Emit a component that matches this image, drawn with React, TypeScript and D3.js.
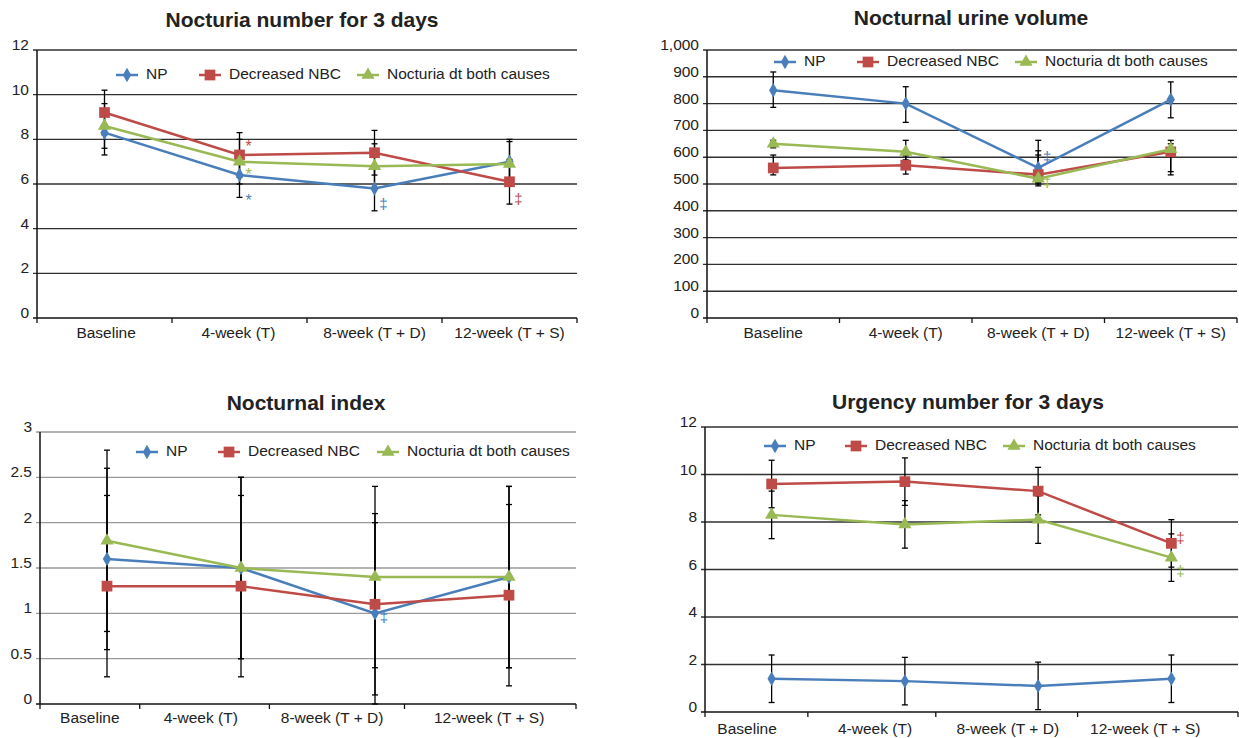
import React, { useEffect, useRef } from 'react';
import * as d3 from 'd3';

// categories and series
const categories = ['Baseline', '4-week (T)', '8-week (T + D)', '12-week (T + S)'];
const seriesNames = ['NP', 'Decreased NBC', 'Nocturia dt both causes'];
const seriesColors = ['#4a7ebb', '#be4b48', '#98b954'];
const seriesSymbols = [d3.symbolDiamond, d3.symbolSquare, d3.symbolTriangle];
const symbolSizes = [60, 115, 75];

// Nocturia number for 3 days
const nocNP = [8.3, 6.4, 5.8, 7.0];
const nocNBC = [9.2, 7.3, 7.4, 6.1];
const nocBoth = [8.6, 7.0, 6.8, 6.9];
const nocTicks = [0, 2, 4, 6, 8, 10, 12];

// Nocturnal urine volume
const volNP = [850, 800, 560, 815];
const volNBC = [560, 570, 535, 620];
const volBoth = [650, 620, 520, 630];
const volNPUp = [68, 63, 64, 66];
const volNPDown = [64, 70, 60, 68];
const volNBCUp = [48, 35, 73, 30];
const volNBCDown = [26, 33, 42, 86];
const volBothUp = [13, 43, 143, 33];
const volBothDown = [15, 30, 15, 84];
const volTicks = [0, 100, 200, 300, 400, 500, 600, 700, 800, 900, 1000];

// Nocturnal index
const idxNP = [1.6, 1.5, 1.0, 1.4];
const idxNBC = [1.3, 1.3, 1.1, 1.2];
const idxBoth = [1.8, 1.5, 1.4, 1.4];
const idxTicks = [0, 0.5, 1, 1.5, 2, 2.5, 3];

// Urgency number for 3 days
const urgNP = [1.4, 1.3, 1.1, 1.4];
const urgNBC = [9.6, 9.7, 9.3, 7.1];
const urgBoth = [8.3, 7.9, 8.1, 6.5];
const urgTicks = [0, 2, 4, 6, 8, 10, 12];

// +/- 1 error bars
const errOne = [1, 1, 1, 1];

// significance marks: series index, category index, y value, symbol
const nocMarks: [number, number, number, string][] = [
  [1, 1, 7.95, '*'], [2, 1, 6.7, '*'], [0, 1, 5.5, '*'], [0, 2, 5.05, '‡'], [1, 3, 5.3, '‡'],
];
const volMarks: [number, number, number, string][] = [[0, 2, 598, '‡'], [2, 2, 505, '‡']];
const idxMarks: [number, number, number, string][] = [[0, 2, 0.95, '‡']];
const urgMarks: [number, number, number, string][] = [[1, 3, 7.3, '‡'], [2, 3, 5.9, '‡']];

const FONT = "'Liberation Sans', Arial, Helvetica, sans-serif";

type Panel = {
  title: string;
  values: number[][];
  up: number[][];
  down: number[][];
  ticks: number[];
  fmt: (v: number) => string;
  marks: [number, number, number, string][];
  x0: number; x1: number; yTop: number; yBottom: number;
  titleX: number; titleY: number; labelY: number;
  legendX: number[]; legendY: number;
  tickFrac: number[];
  labelFrac: number[];
  grid: string;
};

const panels: Panel[] = [
  {
    title: 'Nocturia number for 3 days',
    values: [nocNP, nocNBC, nocBoth], up: [errOne, errOne, errOne], down: [errOne, errOne, errOne],
    ticks: nocTicks, fmt: d3.format('d'), marks: nocMarks,
    x0: 37, x1: 577, yTop: 50, yBottom: 318, titleX: 302, titleY: 21, labelY: 334,
    legendX: [116, 199, 357], legendY: 75,
    tickFrac: [0, 0.25, 0.5, 0.75, 1], labelFrac: [0.128, 0.373, 0.625, 0.875], grid: '#303030',
  },
  {
    title: 'Nocturnal urine volume',
    values: [volNP, volNBC, volBoth], up: [volNPUp, volNBCUp, volBothUp], down: [volNPDown, volNBCDown, volBothDown],
    ticks: volTicks, fmt: d3.format(','), marks: volMarks,
    x0: 707, x1: 1237, yTop: 50, yBottom: 318, titleX: 971, titleY: 19, labelY: 334,
    legendX: [774, 857, 1015], legendY: 62,
    tickFrac: [0, 0.25, 0.5, 0.75, 1], labelFrac: [0.125, 0.375, 0.625, 0.875], grid: '#303030',
  },
  {
    title: 'Nocturnal index',
    values: [idxNP, idxNBC, idxBoth], up: [errOne, errOne, errOne], down: [errOne, errOne, errOne],
    ticks: idxTicks, fmt: (v) => String(v), marks: idxMarks,
    x0: 40, x1: 576, yTop: 432, yBottom: 704, titleX: 306, titleY: 404, labelY: 719,
    legendX: [136, 218, 377], legendY: 452,
    tickFrac: [0, 0.186, 0.428, 0.68, 1], labelFrac: [0.093, 0.3, 0.545, 0.838], grid: '#9a9a9a',
  },
  {
    title: 'Urgency number for 3 days',
    values: [urgNP, urgNBC, urgBoth], up: [errOne, errOne, errOne], down: [errOne, errOne, errOne],
    ticks: urgTicks, fmt: d3.format('d'), marks: urgMarks,
    x0: 705, x1: 1238, yTop: 427, yBottom: 712, titleX: 968, titleY: 403, labelY: 730,
    legendX: [764, 845, 1003], legendY: 446,
    tickFrac: [0, 0.193, 0.433, 0.699, 1], labelFrac: [0.079, 0.319, 0.568, 0.826], grid: '#303030',
  },
];

function drawPanel(svg: d3.Selection<SVGSVGElement, unknown, null, undefined>, p: Panel) {
  const g = svg.append('g');
  const yMax = d3.max(p.ticks) as number;
  const y = d3.scaleLinear().domain([0, yMax]).range([p.yBottom, p.yTop]);
  const x = d3.scaleBand().domain(categories).range([p.x0, p.x1]);
  const cx = (i: number) => (x(categories[i]) as number) + x.bandwidth() / 2;
  const fx = d3.scaleLinear().domain([0, 1]).range([p.x0, p.x1]);

  // title
  g.append('text')
    .attr('x', p.titleX).attr('y', p.titleY)
    .attr('text-anchor', 'middle').attr('dominant-baseline', 'middle')
    .style('font', `bold 21px ${FONT}`).attr('fill', '#222')
    .text(p.title);

  // gridlines
  g.selectAll('line.grid').data(p.ticks.filter((t) => t > 0)).enter().append('line')
    .attr('x1', p.x0 - 4).attr('x2', p.x1)
    .attr('y1', (d) => y(d)).attr('y2', (d) => y(d))
    .attr('stroke', p.grid).attr('stroke-width', 1.4);

  // axes
  g.append('line').attr('x1', p.x0).attr('x2', p.x0).attr('y1', p.yTop).attr('y2', p.yBottom)
    .attr('stroke', '#111').attr('stroke-width', 1.5);
  g.append('line').attr('x1', p.x0 - 4).attr('x2', p.x1).attr('y1', p.yBottom).attr('y2', p.yBottom)
    .attr('stroke', '#111').attr('stroke-width', 1.5);
  g.selectAll('line.xt').data(p.tickFrac).enter().append('line')
    .attr('x1', (d) => fx(d)).attr('x2', (d) => fx(d))
    .attr('y1', p.yBottom).attr('y2', p.yBottom + 5)
    .attr('stroke', '#111').attr('stroke-width', 1.3);

  // y labels
  g.selectAll('text.yl').data(p.ticks).enter().append('text')
    .attr('x', p.x0 - 8).attr('y', (d) => y(d) - 4)
    .attr('text-anchor', 'end').attr('dominant-baseline', 'middle')
    .style('font', `15.5px ${FONT}`).attr('fill', '#222')
    .text((d) => p.fmt(d));

  // x labels
  g.selectAll('text.xl').data(categories).enter().append('text')
    .attr('x', (_d, i) => fx(p.labelFrac[i])).attr('y', p.labelY)
    .attr('text-anchor', 'middle').attr('dominant-baseline', 'middle')
    .style('font', `15.5px ${FONT}`).attr('fill', '#222')
    .text((d) => d);

  // error bars
  p.values.forEach((vals, s) => {
    vals.forEach((v, i) => {
      const hi = y(v + p.up[s][i]);
      const lo = y(v - p.down[s][i]);
      const xx = cx(i);
      g.append('line').attr('x1', xx).attr('x2', xx).attr('y1', hi).attr('y2', lo)
        .attr('stroke', '#000').attr('stroke-width', 1.3);
      [hi, lo].forEach((yy) => {
        g.append('line').attr('x1', xx - 3).attr('x2', xx + 3).attr('y1', yy).attr('y2', yy)
          .attr('stroke', '#000').attr('stroke-width', 1.3);
      });
    });
  });

  // lines and markers
  const line = d3.line<number>().x((_d, i) => cx(i)).y((d) => y(d));
  p.values.forEach((vals, s) => {
    g.append('path').attr('d', line(vals) as string)
      .attr('fill', 'none').attr('stroke', seriesColors[s]).attr('stroke-width', 2.5);
    g.selectAll(null).data(vals).enter().append('path')
      .attr('d', d3.symbol().type(seriesSymbols[s]).size(symbolSizes[s])() as string)
      .attr('transform', (d, i) => `translate(${cx(i)},${y(d)})`)
      .attr('fill', seriesColors[s]);
  });

  // significance marks
  p.marks.forEach(([s, i, v, sym]) => {
    g.append('text')
      .attr('x', cx(i) + 9).attr('y', y(v) + (sym === '*' ? 7 : 0))
      .attr('text-anchor', 'middle').attr('dominant-baseline', 'middle')
      .style('font', `${sym === '*' ? 16 : 15}px ${FONT}`).attr('fill', seriesColors[s])
      .text(sym);
  });

  // legend
  seriesNames.forEach((name, s) => {
    const lx = p.legendX[s];
    g.append('line').attr('x1', lx).attr('x2', lx + 22).attr('y1', p.legendY).attr('y2', p.legendY)
      .attr('stroke', seriesColors[s]).attr('stroke-width', 2.5);
    g.append('path')
      .attr('d', d3.symbol().type(seriesSymbols[s]).size(symbolSizes[s])() as string)
      .attr('transform', `translate(${lx + 11},${p.legendY})`)
      .attr('fill', seriesColors[s]);
    g.append('text').attr('x', lx + 30).attr('y', p.legendY)
      .attr('dominant-baseline', 'middle')
      .style('font', `15.5px ${FONT}`).attr('fill', '#222')
      .text(name);
  });
}

export default function App() {
  const ref = useRef<SVGSVGElement>(null);

  useEffect(() => {
    if (!ref.current) return;
    const svg = d3.select(ref.current);
    svg.selectAll('*').remove();
    panels.forEach((p) => drawPanel(svg, p));
  }, []);

  return (
    <svg
      ref={ref}
      width={1239}
      height={738}
      style={{ position: 'absolute', left: 0, top: 0, background: '#fff' }}
    />
  );
}
